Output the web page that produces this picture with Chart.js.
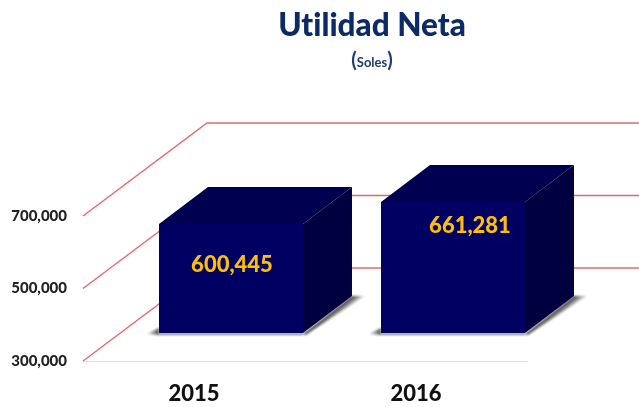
<!DOCTYPE html>
<html>
<head>
<meta charset="utf-8">
<script src="https://cdn.jsdelivr.net/npm/chart.js@4/dist/chart.umd.min.js"></script>
<style>
    html, body { margin: 0; padding: 0; background: #fff; }
    #wrap { position: relative; width: 639px; height: 407px; overflow: hidden; font-family: Lato, sans-serif; font-weight: 700; filter: blur(0.4px); }
    #title, #subtitle { position: absolute; left: 172px; width: 400px; text-align: center; color: #0b2a66; white-space: nowrap; font-variant-ligatures: none; }
    #title { top: 6px; font-size: 31.5px; line-height: 36px; font-weight: 900; }
    #subtitle { top: 47px; font-size: 13px; line-height: 24px; color: #1f3a78; }
    #subtitle span { font-size: 20px; }
</style>
</head>
<body>
<div id="wrap">
    <canvas id="utilidadChart" width="639" height="407"></canvas>
    <div id="title">Utilidad Neta</div>
    <div id="subtitle"><span>(</span>Soles<span>)</span></div>
</div>
<script>
// Chart data
const years = ['2015', '2016'];
const utilidad = [600445, 661281];
const yTicks = [300000, 500000, 700000];

// Look of the 3D box (pixels)
const wallDepth = { x: 124, y: -93 };
const barShift = { x: 37, y: -28 };
const barDepth = { x: 49, y: -37 };
const labelNudge = [{ x: 1, y: -14 }, { x: 17, y: -42 }];

function poly(ctx, pts, fill) {
    ctx.beginPath();
    pts.forEach((p, i) => i ? ctx.lineTo(p[0], p[1]) : ctx.moveTo(p[0], p[1]));
    ctx.closePath();
    ctx.fillStyle = fill;
    ctx.fill();
}

const box3d = {
    id: 'box3d',
    beforeDatasetsDraw(chart) {
        const ctx = chart.ctx;
        const y = chart.scales.y;
        const area = chart.chartArea;

        // Red lines: floor/side wall diagonal, then along the back wall
        ctx.save();
        ctx.strokeStyle = '#e26a6a';
        ctx.lineWidth = 1.4;
        yTicks.forEach(v => {
            const py = y.getPixelForValue(v);
            ctx.beginPath();
            ctx.moveTo(area.left, py);
            ctx.lineTo(area.left + wallDepth.x, py + wallDepth.y);
            ctx.lineTo(chart.width, py + wallDepth.y);
            ctx.stroke();
        });
        ctx.restore();

        chart.getDatasetMeta(0).data.forEach(bar => {
            const left = bar.x - bar.width / 2 + barShift.x;
            const right = bar.x + bar.width / 2 + barShift.x;
            const top = bar.y + barShift.y;
            const bottom = bar.base + barShift.y;
            const dx = barDepth.x, dy = barDepth.y;

            // Shadow on the floor
            ctx.save();
            ctx.filter = 'blur(1px)';
            let g = ctx.createLinearGradient(left - 13, 0, left, 0);
            g.addColorStop(0, 'rgba(60,60,60,0)');
            g.addColorStop(1, 'rgba(60,60,60,0.9)');
            poly(ctx, [[left - 13, bottom + 1], [left, bottom - 5], [left, bottom + 2]], g);
            poly(ctx, [[left, bottom], [right, bottom], [right, bottom + 2], [left, bottom + 2]], 'rgba(90,90,90,0.8)');
            // fades away from the bottom edge of the side face
            const ex = right + dx / 2, ey = bottom + dy / 2;
            g = ctx.createLinearGradient(ex, ey, ex + 5, ey + 6.5);
            g.addColorStop(0, 'rgba(30,30,30,0.95)');
            g.addColorStop(1, 'rgba(30,30,30,0.1)');
            poly(ctx, [[right, bottom + 1], [right + dx, bottom + dy], [right + dx + 13, bottom + dy], [right + 3, bottom + 2]], g);
            ctx.restore();

            // Top and side faces
            poly(ctx, [[left, top], [left + dx, top + dy], [right + dx, top + dy], [right, top]], '#000050');
            poly(ctx, [[right, top], [right + dx, top + dy], [right + dx, bottom + dy], [right, bottom]], '#000040');
        });
    },
    // Front faces are the real bars, moved back into the depth of the chart
    beforeDatasetDraw(chart) {
        chart.ctx.save();
        chart.ctx.translate(barShift.x, barShift.y);
    },
    afterDatasetDraw(chart) {
        chart.ctx.restore();
    },
    afterDatasetsDraw(chart) {
        const ctx = chart.ctx;
        ctx.save();
        ctx.font = '900 22px Lato';
        ctx.fillStyle = '#ffc000';
        ctx.textAlign = 'center';
        ctx.textBaseline = 'middle';
        chart.getDatasetMeta(0).data.forEach((bar, i) => {
            const mid = (bar.y + bar.base) / 2 + barShift.y;
            ctx.fillText(utilidad[i].toLocaleString('en-US'), bar.x + barShift.x + labelNudge[i].x, mid + labelNudge[i].y);
        });
        ctx.restore();
    }
};

new Chart(document.getElementById('utilidadChart'), {
    type: 'bar',
    data: {
        labels: years,
        datasets: [{
            label: 'Utilidad Neta',
            data: utilidad,
            base: yTicks[0],
            backgroundColor: '#000062',
            barPercentage: 0.6486,
            categoryPercentage: 1,
            clip: false
        }]
    },
    options: {
        responsive: false,
        animation: false,
        layout: { padding: { top: 216, right: 112, left: 0, bottom: 0 } },
        plugins: { legend: { display: false }, tooltip: { enabled: false } },
        scales: {
            x: {
                grid: { display: false, drawTicks: false },
                border: { display: true, color: '#e2e2e2', width: 1 },
                ticks: { color: '#111', padding: 20, font: { family: 'Lato', size: 22, weight: 900 } },
                afterFit(scale) { scale.height = 46; }
            },
            y: {
                min: 300000,
                max: 700000,
                grid: { display: false, drawTicks: false },
                border: { display: false },
                afterBuildTicks(scale) { scale.ticks = yTicks.map(v => ({ value: v })); },
                ticks: {
                    color: '#222',
                    padding: 16,
                    font: { family: 'Lato', size: 15, weight: 900 },
                    callback: v => v.toLocaleString('en-US')
                },
                afterFit(scale) { scale.width = 83; }
            }
        }
    },
    plugins: [box3d]
});
</script>
</body>
</html>
